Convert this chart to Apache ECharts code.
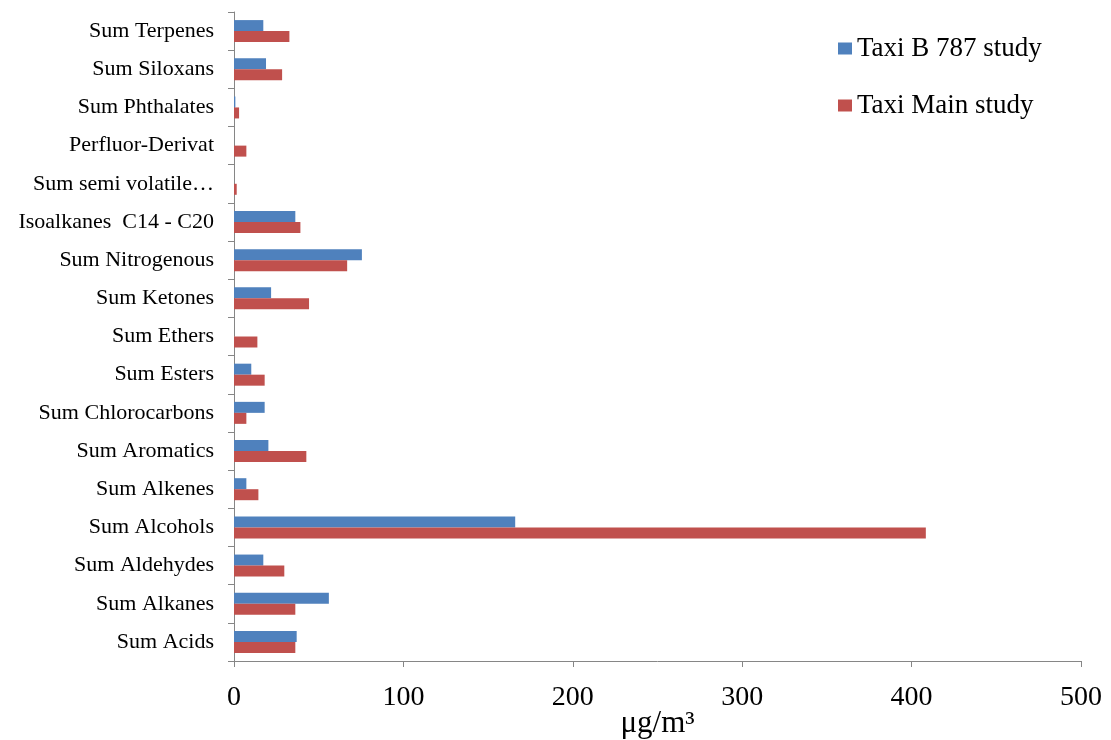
<!DOCTYPE html>
<html><head><meta charset="utf-8">
<script src="https://cdn.jsdelivr.net/npm/echarts@6/dist/echarts.min.js"></script>
<style>html,body{margin:0;padding:0;background:#fff}#c{width:1111px;height:740px}</style>
</head><body><div id="c"></div>
<script>
const categories = ["Sum Acids","Sum Alkanes","Sum Aldehydes","Sum Alcohols","Sum Alkenes","Sum Aromatics","Sum Chlorocarbons","Sum Esters","Sum Ethers","Sum Ketones","Sum Nitrogenous","Isoalkanes  C14 - C20","Sum semi volatile\u2026","Perfluor-Derivat","Sum Phthalates","Sum Siloxans","Sum Terpenes"];
const seriesNames = ["Taxi B 787 study","Taxi Main study"];
const taxiB787 = [37, 56, 17.3, 166, 7.3, 20.3, 18.1, 10.2, 0, 21.9, 75.5, 36.2, 0, 0, 0.8, 18.9, 17.3];
const taxiMain = [36.2, 36.2, 29.7, 408.4, 14.4, 42.7, 7.3, 18.1, 13.8, 44.3, 66.8, 39.2, 1.6, 7.3, 3, 28.4, 32.7];
const xTicks = [0, 100, 200, 300, 400, 500];

const font = "'Liberation Serif','DejaVu Serif',serif";
const chart = echarts.init(document.getElementById('c'), null, {renderer:'canvas'});
chart.setOption({
  animation:false,
  backgroundColor:'#fff',
  grid:{left:234, right:30, top:12, bottom:79, containLabel:false, outerBoundsMode:'none'},
  legend:{
    orient:'vertical', left:833, top:30, itemGap:30, itemWidth:14, itemHeight:12, icon:'rect',
    textStyle:{fontFamily:font, fontSize:27, color:'#000'},
    data:seriesNames
  },
  xAxis:{
    type:'value', min:xTicks[0], max:xTicks[xTicks.length-1], interval:100,
    splitLine:{show:false},
    axisLine:{show:true, lineStyle:{color:'#868686'}},
    axisTick:{show:true, length:6, lineStyle:{color:'#868686'}},
    axisLabel:{fontFamily:font, fontSize:28, color:'#000', margin:23},
    name:'\u03bcg/m\u00b3', nameLocation:'middle', nameGap:47, nameMoveOverlap:false,
    nameTextStyle:{fontFamily:font, fontSize:31, color:'#000'}
  },
  yAxis:{
    type:'category', data:categories,
    axisLine:{show:true, lineStyle:{color:'#868686'}},
    axisTick:{show:true, length:6, lineStyle:{color:'#868686'}},
    axisLabel:{fontFamily:font, fontSize:22, color:'#000', margin:20}
  },
  series:[
    {name:seriesNames[0], type:'bar', data:taxiB787, itemStyle:{color:'#4F81BD'}, barWidth:11, barGap:'0%', barCategoryGap:'42%'},
    {name:seriesNames[1], type:'bar', data:taxiMain, itemStyle:{color:'#C0504D'}, barWidth:11, barGap:'0%', barCategoryGap:'42%'}
  ]
});
</script></body></html>
